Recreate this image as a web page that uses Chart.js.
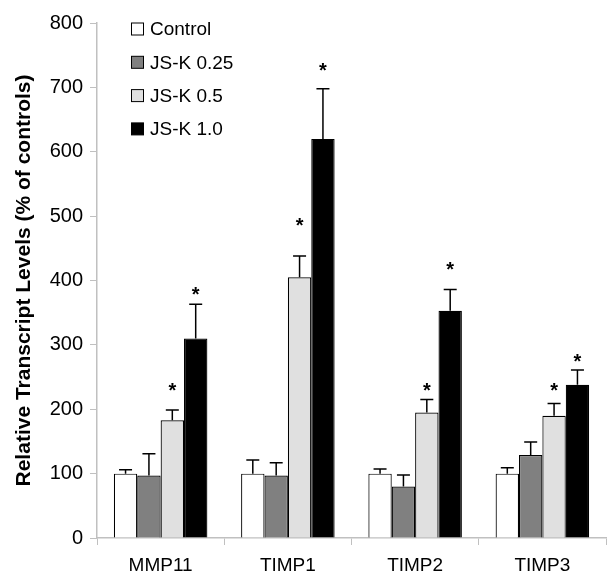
<!DOCTYPE html>
<html lang="en">
<head>
  <meta charset="UTF-8" />
  <title>Relative Transcript Levels</title>
  <script src="https://cdn.jsdelivr.net/npm/chart.js"></script>
  <style>
    body { margin: 0; background: #fff; }
    #chart { display: block; }
  </style>
</head>
<body>
  <canvas id="chart" width="615" height="585"></canvas>
  <script>
    // values (% of controls)
    const genes = ["MMP11", "TIMP1", "TIMP2", "TIMP3"];
    const seriesNames = ["Control", "JS-K 0.25", "JS-K 0.5", "JS-K 1.0"];
    const control = [100, 100, 100, 100];
    const jsk025 = [97, 97, 80, 129];
    const jsk05 = [183, 405, 195, 190];
    const jsk10 = [310, 620, 353, 238];
    // upper error bar lengths
    const errControl = [6, 21, 7, 9];
    const errJsk025 = [34, 20, 18, 20];
    const errJsk05 = [16, 33, 20, 19];
    const errJsk10 = [53, 78, 33, 23];
    // where the significance asterisks sit (null = none)
    const starJsk05 = [235, 491, 235, 235];
    const starJsk10 = [385, 732, 424, 280];
    const yTicks = [0, 100, 200, 300, 400, 500, 600, 700, 800];

    const colors = ["#ffffff", "#808080", "#e0e0e0", "#000000"];
    const font = "'Liberation Sans', Arial, sans-serif";

    const values = [control, jsk025, jsk05, jsk10];
    const errors = [errControl, errJsk025, errJsk05, errJsk10];
    const stars = [null, null, starJsk05, starJsk10];

    const datasets = seriesNames.map((name, i) => ({
      label: name,
      data: values[i],
      err: errors[i],
      stars: stars[i],
      backgroundColor: colors[i],
      borderColor: "#000",
      borderWidth: 1.2,
      barPercentage: 1,
      categoryPercentage: 0.735
    }));

    // error bars, asterisks and the legend in the top-left corner
    const extras = {
      id: "extras",
      afterDatasetsDraw(chart) {
        const ctx = chart.ctx;
        const y = chart.scales.y;
        ctx.save();
        chart.data.datasets.forEach((ds, i) => {
          const meta = chart.getDatasetMeta(i);
          meta.data.forEach((bar, j) => {
            const top = y.getPixelForValue(ds.data[j]);
            const end = y.getPixelForValue(ds.data[j] + ds.err[j]);
            ctx.strokeStyle = "#000";
            ctx.lineWidth = 1.5;
            ctx.beginPath();
            ctx.moveTo(bar.x, top);
            ctx.lineTo(bar.x, end);
            ctx.moveTo(bar.x - 6.5, end);
            ctx.lineTo(bar.x + 6.5, end);
            ctx.stroke();
            if (ds.stars && ds.stars[j] != null) {
              ctx.fillStyle = "#000";
              ctx.font = "bold 20px " + font;
              ctx.textAlign = "center";
              ctx.textBaseline = "middle";
              ctx.fillText("*", bar.x, y.getPixelForValue(ds.stars[j]) + 5);
            }
          });
        });

        ctx.font = "19px " + font;
        ctx.textAlign = "left";
        ctx.textBaseline = "middle";
        chart.data.datasets.forEach((ds, i) => {
          const cy = 29 + i * 33.3;
          ctx.fillStyle = ds.backgroundColor;
          ctx.fillRect(131.5, cy - 6, 12, 12);
          ctx.strokeStyle = "#000";
          ctx.lineWidth = 1;
          ctx.strokeRect(131.5, cy - 6, 12, 12);
          ctx.fillStyle = "#000";
          ctx.fillText(ds.label, 150, cy + 1);
        });
        ctx.restore();
      }
    };

    new Chart(document.getElementById("chart"), {
      type: "bar",
      data: { labels: genes, datasets: datasets },
      options: {
        responsive: false,
        animation: false,
        layout: { padding: { top: 23, right: 9, left: 0, bottom: 0 } },
        plugins: { legend: { display: false }, tooltip: { enabled: false } },
        scales: {
          x: {
            grid: { offset: true, drawOnChartArea: false, tickLength: 7, color: "#c0c0c0" },
            border: { color: "#c0c0c0", width: 1.5 },
            ticks: { color: "#000", font: { family: font, size: 19 }, padding: 9 },
            afterFit(s) { s.height = 47; }
          },
          y: {
            min: 0,
            max: 800,
            afterBuildTicks(s) { s.ticks = yTicks.map(v => ({ value: v })); },
            grid: { drawOnChartArea: false, tickLength: 7, color: "#c0c0c0" },
            border: { color: "#c0c0c0", width: 1.5 },
            ticks: { color: "#000", font: { family: font, size: 20 }, padding: 7 },
            title: {
              display: true,
              text: "Relative Transcript Levels (% of controls)",
              color: "#000",
              font: { family: font, size: 21, weight: "bold" },
              padding: { top: 12, bottom: 0 }
            },
            afterFit(s) { s.width = 97; }
          }
        }
      },
      plugins: [extras]
    });
  </script>
</body>
</html>
